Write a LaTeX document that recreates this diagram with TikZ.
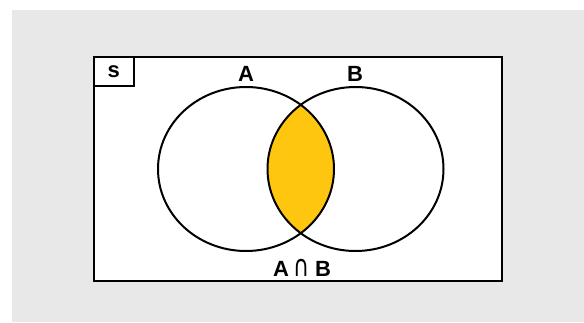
\documentclass[tikz,border=0pt]{standalone}
\usepackage{fontspec}
\usepackage{graphicx}
\setmainfont{Liberation Sans}
\newfontfamily\symfont{DejaVu Sans}
\usetikzlibrary{shapes.geometric}
\definecolor{bggray}{HTML}{E8E8E8}
\definecolor{lensfill}{HTML}{FFC60F}
\tikzset{
  frame/.style={draw=black, line width=2pt},
  setoval/.style={ellipse, draw=black, line width=2pt, minimum width=176pt, minimum height=164pt, inner sep=0pt},
  lbl/.style={font=\fontsize{22}{22}\selectfont\bfseries, inner sep=0pt, anchor=center}
}
\begin{document}
\begin{tikzpicture}[x=1pt,y=-1pt]
\useasboundingbox (0,0) rectangle (584,322);
\fill[bggray] (12,10) rectangle (584,322);
\node[frame, fill=white, minimum width=408pt, minimum height=224.5pt, inner sep=0pt] (U) at (297.5,168.75) {};
\coordinate (ca) at (246,169);
\coordinate (cb) at (355.5,169);
\begin{scope}
  \clip (ca) ellipse [x radius=88, y radius=82];
  \fill[lensfill] (cb) ellipse [x radius=88, y radius=82];
\end{scope}
\node[setoval] (A) at (ca) {};
\node[setoval] (B) at (cb) {};
\node[frame, minimum width=40.5pt, minimum height=29.5pt, inner sep=0pt] (Sbox) at (113.75,71.25) {};
\node[lbl] (Slbl) at (Sbox.center) {s};
\node[lbl] (Albl) at (246,74) {A};
\node[lbl] (Blbl) at (355,74) {B};
\node[lbl] (ABlbl) at (302,268) {A\hspace{5pt}{\symfont\mdseries\scalebox{1}[1.35]{∩}}\hspace{5pt}B};
\end{tikzpicture}
\end{document}
